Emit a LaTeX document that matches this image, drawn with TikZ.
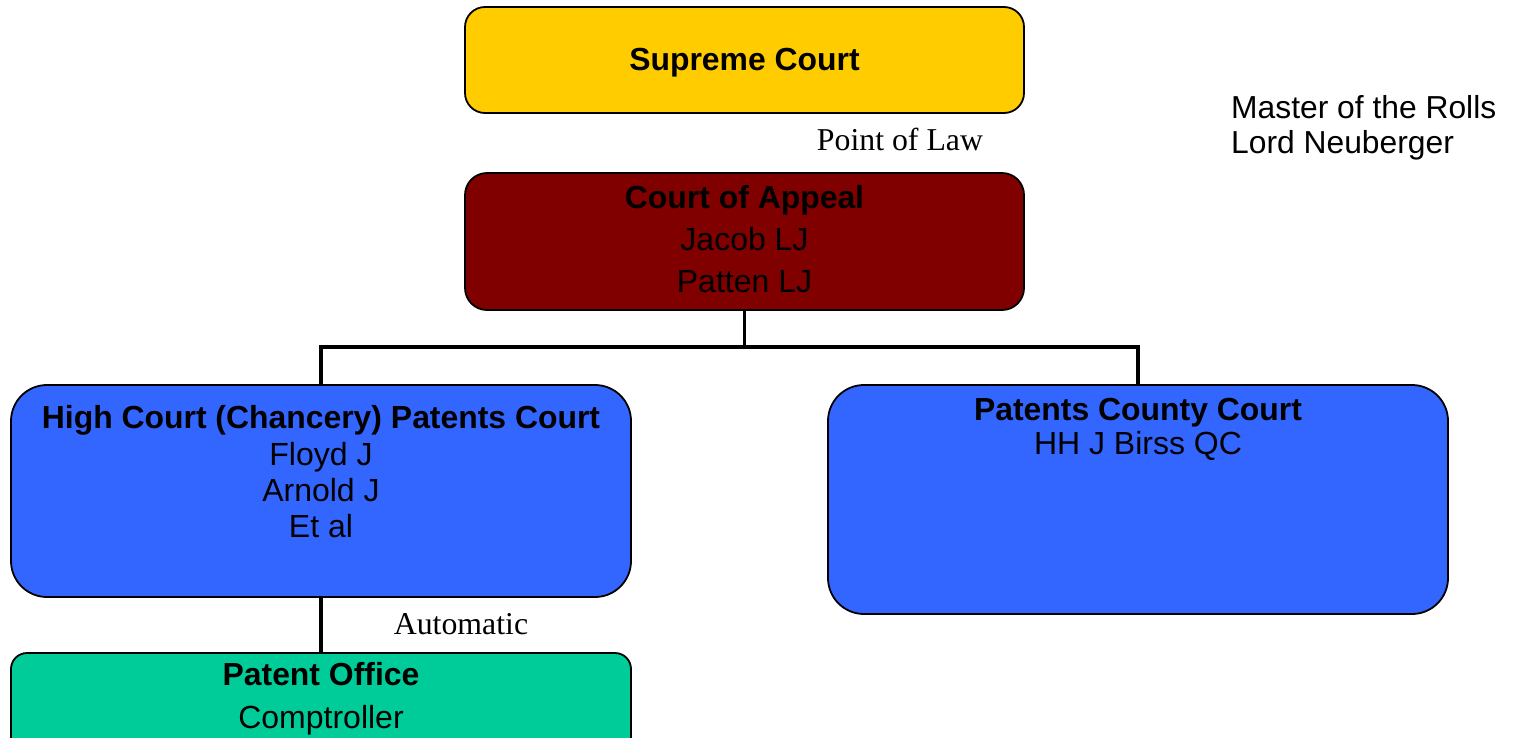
\documentclass[tikz,border=0pt]{standalone}
\usepackage{fontspec}
\setmainfont{Liberation Sans}
\newfontfamily\seriffont{Liberation Serif}
\definecolor{supreme}{HTML}{FFCC00}
\definecolor{appeal}{HTML}{800000}
\definecolor{courtblue}{HTML}{3366FF}
\definecolor{office}{HTML}{00CC99}
\begin{document}
\begin{tikzpicture}[x=1pt,y=-1pt,
  box/.style={draw=black,line width=1.8pt,rectangle,inner sep=0pt},
  conn/.style={draw=black,line width=3.2pt},
  lbl/.style={anchor=base,inner sep=0pt,font=\fontsize{32}{37}\selectfont},
  lblb/.style={anchor=base,inner sep=0pt,font=\fontsize{31.9}{37}\selectfont\bfseries},
  note/.style={anchor=base,inner sep=0pt,font=\seriffont\fontsize{31.8}{37}\selectfont},
  side/.style={anchor=base west,inner sep=0pt,font=\fontsize{31.8}{35}\selectfont}]
\useasboundingbox (0,0) rectangle (1516,737);
\clip (0,0) rectangle (1516,737);

% boxes
\node[box,fill=supreme,rounded corners=20pt,minimum width=559pt,minimum height=106pt] (sc) at (744.5,60) {};
\node[box,fill=appeal,rounded corners=22pt,minimum width=559pt,minimum height=137pt] (ca) at (744.5,241.5) {};
\node[box,fill=courtblue,rounded corners=36pt,minimum width=620pt,minimum height=212pt] (hc) at (321,491) {};
\node[box,fill=courtblue,rounded corners=36pt,minimum width=620pt,minimum height=229pt] (pcc) at (1138,499.5) {};
\node[box,fill=office,rounded corners=16pt,minimum width=620pt,minimum height=127pt] (po) at (321,716.5) {};

% connectors
\coordinate (j) at (744.5,347);
\draw[conn] (ca.south) -- (j);
\draw[conn] (hc.north) |- (j) -| (pcc.north);
\draw[conn] (hc.south) -- (po.north);

% texts
\node[lblb] (tsc) at (744.5,70) {Supreme Court};
\node[note] (tpol) at (900,150) {Point of Law};
\node[lblb] (tca1) at (744.5,208) {Court of Appeal};
\node[lbl] (tca2) at (744.5,250) {Jacob LJ};
\node[lbl] (tca3) at (744.5,292) {Patten LJ};
\node[lblb] (thc1) at (321,428) {High Court (Chancery) Patents Court};
\node[lbl] (thc2) at (321,465) {Floyd J};
\node[lbl] (thc3) at (321,501) {Arnold J};
\node[lbl] (thc4) at (321,537) {Et al};
\node[lblb] (tpc1) at (1138,420) {Patents County Court};
\node[lbl] (tpc2) at (1138,454) {HH J Birss QC};
\node[note] (tauto) at (461,634) {Automatic};
\node[lblb] (tpo1) at (321,685) {Patent Office};
\node[lbl] (tpo2) at (321,728) {Comptroller};
\node[side] (mr1) at (1231,118) {Master of the Rolls};
\node[side] (mr2) at (1231,153) {Lord Neuberger};
\end{tikzpicture}
\end{document}
